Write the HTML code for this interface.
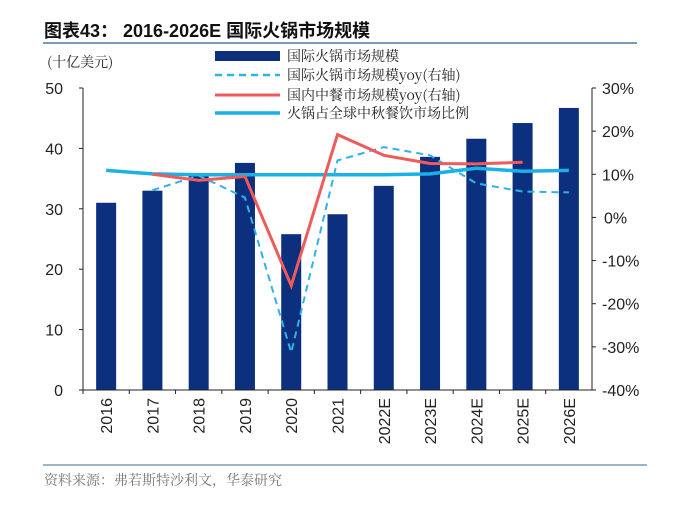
<!DOCTYPE html>
<html><head><meta charset="utf-8"><style>
body{margin:0;background:#fff;}
svg text{font-family:"Liberation Sans","Noto Sans CJK SC",sans-serif;}
.cj{font-family:"Noto Serif CJK SC","Noto Sans CJK SC",serif;}
</style></head><body>
<svg id="c" width="700" height="503" viewBox="0 0 700 503" xmlns="http://www.w3.org/2000/svg">
<text x="44" y="37" font-size="18" font-weight="bold" fill="#111">图表43： 2016-2026E 国际火锅市场规模</text>
<line x1="43" y1="43" x2="637" y2="43" stroke="#7a9cb8" stroke-width="2"/>
<text x="47" y="67" font-size="14" class="cj" fill="#222">(十亿美元)</text>
<g id="g"></g>
<line x1="43" y1="465" x2="647" y2="465" stroke="#7a9cb8" stroke-width="1.5"/>
<text x="44" y="485" font-size="14" class="cj" fill="#777">资料来源：弗若斯特沙利文，华泰研究</text>
</svg>
<script>
const categories=["2016","2017","2018","2019","2020","2021","2022E","2023E","2024E","2025E","2026E"];
const marketSize=[31,33,35.6,37.6,25.8,29.1,33.8,38.6,41.6,44.2,46.7];
const hotpotYoy=[null,6.3,9.7,4.6,-31.3,13.2,16.3,14.4,7.9,6.0,5.8];
const chineseYoy=[null,10,8.6,9.5,-15.8,19.2,14.4,12.5,12.4,12.8,null];
const hotpotShare=[10.9,10.1,9.9,9.9,9.9,9.9,9.9,10.1,11.4,10.7,10.9];
const leftTicks=[0,10,20,30,40,50];
const rightTicks=[-40,-30,-20,-10,0,10,20,30];
const legendLabels=["国际火锅市场规模","国际火锅市场规模yoy(右轴)","国内中餐市场规模yoy(右轴)","火锅占全球中秋餐饮市场比例"];

const NS="http://www.w3.org/2000/svg";
const g=document.getElementById('g');
const X0=83,X1=592,YT=88,YB=390;
const step=(X1-X0)/categories.length;
const xc=i=>X0+step*(i+0.5);
const yl=v=>YB-(v-0)/50*(YB-YT);
const yr=v=>YB-(v+40)/70*(YB-YT);
function mk(t,a){const e=document.createElementNS(NS,t);for(const k in a)e.setAttribute(k,a[k]);g.appendChild(e);return e;}

marketSize.forEach((v,i)=>{
 const r=mk('rect',{x:xc(i)-10,y:yl(v),width:20,height:YB-yl(v),fill:'#0c2f7e'});
 
 
});
function line(arr,attrs,name){
 let d='';let pen=false;
 arr.forEach((v,i)=>{if(v==null){pen=false;return;}d+=(pen?'L':'M')+xc(i)+' '+yr(v)+' ';pen=true;});
 const p=mk('path',Object.assign({d:d,fill:'none'},attrs));
 
 
}
line(hotpotShare,{stroke:'#1ab0e8','stroke-width':3.5},'series-hotpot-share');
line(hotpotYoy,{stroke:'#2fb3e6','stroke-width':2,'stroke-dasharray':'7,5'},'series-hotpot-yoy');
line(chineseYoy,{stroke:'#ef5b5b','stroke-width':3},'series-chinese-yoy');

// axes
let a=mk('line',{x1:X0,y1:YT,x2:X0,y2:YB,stroke:'#222'});
a=mk('line',{x1:X1,y1:YT,x2:X1,y2:YB,stroke:'#222'});
a=mk('line',{x1:X0-4,y1:YB,x2:X1+4,y2:YB,stroke:'#222'});
leftTicks.forEach(v=>{
 mk('line',{x1:X0-4,y1:yl(v),x2:X0,y2:yl(v),stroke:'#222'});
 const t=mk('text',{x:X0-20,y:yl(v)+6,'font-size':16,'text-anchor':'end',fill:'#222'});t.textContent=v;
 
 
});
rightTicks.forEach(v=>{
 mk('line',{x1:X1,y1:yr(v),x2:X1+4,y2:yr(v),stroke:'#222'});
 const t=mk('text',{x:X1+33+(v<0?0:0),y:yr(v)+6,'font-size':16,'text-anchor':'start',fill:'#222'});
 t.setAttribute('x',X1+(v<0?10:(v===0?12:10)));
 t.textContent=v+'%';
 
 
});
categories.forEach((c,i)=>{
 mk('line',{x1:X0+step*i,y1:YB,x2:X0+step*i,y2:YB+4,stroke:'#222'});
 const t=mk('text',{x:0,y:0,'font-size':16,'text-anchor':'end',fill:'#222',transform:`translate(${xc(i)+6},${YB+8}) rotate(-90)`});
 t.textContent=c;
 
 
});
// legend
const ly=[56,75,95,113];
const bg=mk('rect',{x:212,y:46,width:205,height:77,fill:'#fff'});


const sw=[{t:'rect'},{stroke:'#2fb3e6','stroke-width':2.5,'stroke-dasharray':'7,5'},{stroke:'#ef5b5b','stroke-width':3},{stroke:'#1ab0e8','stroke-width':3.5}];
legendLabels.forEach((l,i)=>{
 let s;
 if(i===0) s=mk('rect',{x:215,y:ly[i]-5,width:65,height:10,fill:'#0c2f7e'});
 else s=mk('line',Object.assign({x1:215,y1:ly[i],x2:280,y2:ly[i]},sw[i]));
 
 
 const t=mk('text',{x:287,y:ly[i]+5,'font-size':14,fill:'#222',class:'cj'});t.textContent=l;
 
 
});
</script>
</body></html>
